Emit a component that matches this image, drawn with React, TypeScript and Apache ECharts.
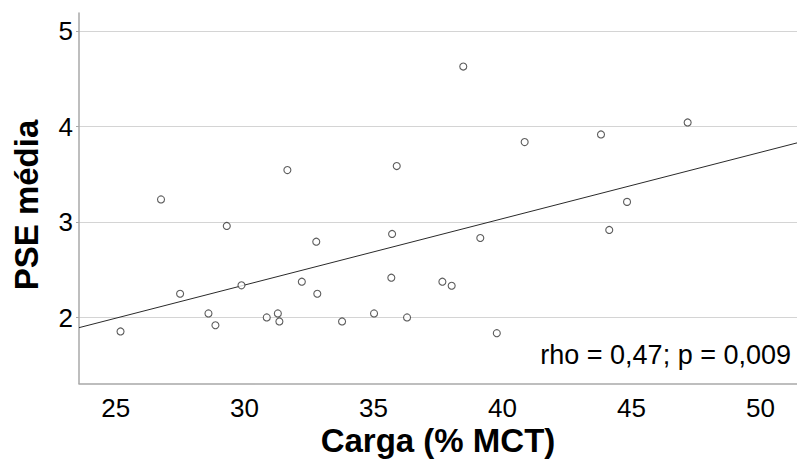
import React, { useEffect, useRef } from "react";
import * as echarts from "echarts";

const cargaX = [
  25.19, 26.76, 27.5, 28.6, 28.87, 29.31, 29.88, 30.86, 31.29, 31.35,
  31.66, 32.22, 32.78, 32.82, 33.78, 35.02, 35.69, 35.72, 35.9, 36.3,
  37.67, 38.03, 38.48, 39.14, 39.78, 40.86, 43.82, 44.14, 44.83, 47.18,
];
const pseY = [
  1.855, 3.238, 2.25, 2.044, 1.92, 2.96, 2.338, 2.002, 2.044, 1.96,
  3.545, 2.376, 2.795, 2.25, 1.96, 2.044, 2.418, 2.876, 3.587, 2.002,
  2.376, 2.334, 4.629, 2.834, 1.837, 3.838, 3.918, 2.918, 3.212, 4.044,
];
const xTicks = [25, 30, 35, 40, 45, 50];
const yTicks = [2, 3, 4, 5];
const xRange = [23.58, 51.42];
const yRange = [1.31, 5.19];
const fitIntercept = 0.256;
const fitSlope = 0.0695;
const statText = "rho = 0,47; p = 0,009";
const xTitle = "Carga (% MCT)";
const yTitle = "PSE média";

const FONT = "'Liberation Sans', Arial, sans-serif";

export default function App() {
  const ref = useRef<HTMLDivElement>(null);
  useEffect(() => {
    document.body.style.margin = "0";
    if (!ref.current) return;
    const chart = echarts.init(ref.current, undefined, { renderer: "svg" });
    const points = cargaX.map((x, i) => [x, pseY[i]]);
    const fitLine = xRange.map((x) => [x, fitIntercept + fitSlope * x]);
    chart.setOption({
      animation: false,
      backgroundColor: "#ffffff",
      textStyle: { fontFamily: FONT },
      grid: { left: 79, right: 0, top: 13, bottom: 91.5, containLabel: false },
      xAxis: {
        type: "value",
        min: xRange[0],
        max: xRange[1],
        axisLine: { show: true, lineStyle: { color: "#a8a8a8", width: 1.5 } },
        axisTick: { show: false, customValues: xTicks },
        axisLabel: {
          customValues: xTicks,
          color: "#000",
          fontSize: 26,
          fontFamily: FONT,
          margin: 11,
        },
        splitLine: { show: false },
      },
      yAxis: {
        type: "value",
        min: yRange[0],
        max: yRange[1],
        axisLine: { show: true, lineStyle: { color: "#a8a8a8", width: 1.5 } },
        axisTick: {
          show: true,
          length: 3,
          customValues: yTicks,
          lineStyle: { color: "#a8a8a8" },
        },
        axisLabel: {
          customValues: yTicks,
          color: "#000",
          fontSize: 26,
          fontFamily: FONT,
          margin: 6,
          padding: [5, 0, 0, 0],
        },
        splitLine: { show: true, lineStyle: { color: "#d4d4d4", width: 1 } },
      },
      series: [
        {
          type: "line",
          data: fitLine,
          showSymbol: false,
          symbol: "none",
          lineStyle: { color: "#2a2a2a", width: 1 },
          silent: true,
          z: 2,
        },
        {
          type: "scatter",
          data: points,
          symbol: "circle",
          symbolSize: 7,
          itemStyle: { color: "#ffffff", borderColor: "#333333", borderWidth: 1.1 },
          z: 3,
        },
      ],
      graphic: [
        {
          type: "text",
          x: 791,
          y: 355,
          style: {
            text: statText,
            fontSize: 27,
            fontFamily: FONT,
            fill: "#000",
            align: "right",
            verticalAlign: "middle",
          },
        },
        {
          type: "text",
          x: 438,
          y: 440,
          style: {
            text: xTitle,
            fontSize: 33,
            fontWeight: "bold",
            fontFamily: FONT,
            fill: "#000",
            align: "center",
            verticalAlign: "middle",
          },
        },
        {
          type: "text",
          x: 26,
          y: 205,
          rotation: Math.PI / 2,
          style: {
            text: yTitle,
            fontSize: 33,
            fontWeight: "bold",
            fontFamily: FONT,
            fill: "#000",
            align: "center",
            verticalAlign: "middle",
          },
        },
      ],
    });
    return () => chart.dispose();
  }, []);
  return <div ref={ref} style={{ width: 797, height: 475 }} />;
}
